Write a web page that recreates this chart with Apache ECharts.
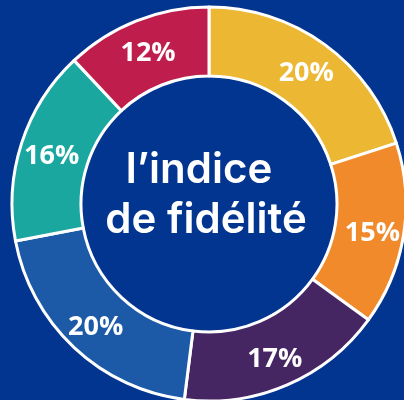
<!DOCTYPE html>
<html>
<head>
<meta charset="utf-8">
<script src="https://cdn.jsdelivr.net/npm/echarts@6/dist/echarts.min.js"></script>
<style>
  html, body { margin: 0; padding: 0; background: #02358f; }
  #chart { width: 404px; height: 400px; }
</style>
</head>
<body>
<div id="chart"></div>
<script>
// slices, clockwise from the top
const segmentNames = ['A', 'B', 'C', 'D', 'E', 'F'];
const segmentValues = [20, 15, 17, 20, 16, 12];
const segmentColors = ['#ecb733', '#f08a2b', '#452562', '#1c5aa7', '#1aa7a0', '#bf1d4c'];
const centerLines = ['l\u2019indice', 'de fidélité'];

const chart = echarts.init(document.getElementById('chart'));

const centerFont = '600 42px Inter, sans-serif';

const option = {
  backgroundColor: '#02358f',
  animation: false,
  graphic: [
    {
      type: 'text',
      x: 199,
      y: 170,
      style: { text: centerLines[0], fill: '#fff', font: centerFont, align: 'center', verticalAlign: 'middle' }
    },
    {
      type: 'text',
      x: 206,
      y: 220,
      style: { text: centerLines[1], fill: '#fff', font: centerFont, align: 'center', verticalAlign: 'middle' }
    }
  ],
  series: [
    {
      type: 'pie',
      center: [209, 204],
      radius: [128, 197],
      startAngle: 90,
      clockwise: true,
      silent: true,
      itemStyle: {
        borderColor: '#fff',
        borderWidth: 3
      },
      label: {
        position: 'inside',
        formatter: '{c}%',
        color: '#fff',
        fontFamily: '"Open Sans", sans-serif',
        fontWeight: 'bold',
        fontSize: 27,
        offset: [0, 3]
      },
      labelLine: { show: false },
      data: segmentNames.map((n, i) => ({
        name: n,
        value: segmentValues[i],
        itemStyle: { color: segmentColors[i] }
      }))
    }
  ]
};

chart.setOption(option);
</script>
</body>
</html>
